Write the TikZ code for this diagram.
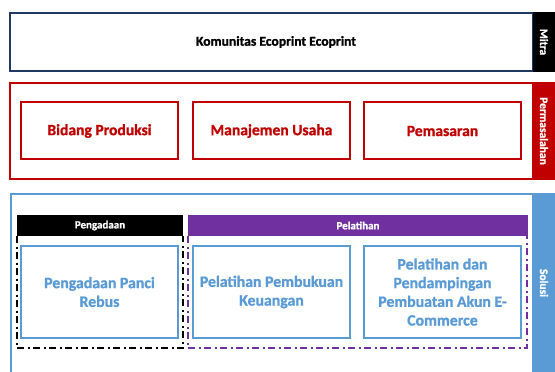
\documentclass[tikz,border=0pt]{standalone}
\usepackage{fontspec}
\setmainfont{Carlito}[BoldFont={Carlito Bold},BoldFeatures={FakeBold=1.2}]
\definecolor{navy}{HTML}{1F3864}
\definecolor{redc}{HTML}{C00000}
\definecolor{bluec}{HTML}{5B9BD5}
\definecolor{purp}{HTML}{7030A0}
\begin{document}
\begin{tikzpicture}[x=1pt,y=-1pt,
  sidelabel/.style={text=white,font=\bfseries\fontsize{11.5}{13}\selectfont,rotate=-90},
  probbox/.style={draw=redc,line width=1.6pt},
  probtext/.style={text=redc,font=\bfseries\fontsize{15.6}{18}\selectfont},
  solbox/.style={draw=bluec,line width=1.6pt},
  soltext/.style={text=bluec,font=\bfseries\fontsize{15.8}{18.7}\selectfont,align=center},
  header/.style={text=white,font=\bfseries\fontsize{11}{12}\selectfont},
  dashdotframe/.style={line width=1.8pt,dash pattern=on 7pt off 3.5pt on 2pt off 3.5pt}
]
\useasboundingbox (0,0) rectangle (555,372);
% Mitra
\draw[navy,line width=1.3pt] (10,13) rectangle (533,71);
\fill[black] (533,12) rectangle (555,72);
\node[sidelabel] (mitra) at (544,42) {Mitra};
\node[font=\bfseries\fontsize{13.6}{15}\selectfont] (kom) at (276,42) {Komunitas Ecoprint Ecoprint};
% Permasalahan
\draw[redc,line width=1.6pt] (10,83) rectangle (533,179);
\fill[redc] (532,82) rectangle (555,180);
\node[sidelabel] (perm) at (544,131) {Permasalahan};
\draw[probbox] (21,102) rectangle (178,159);
\node[probtext] (bp) at (99.5,131) {Bidang Produksi};
\draw[probbox] (193,102) rectangle (350,159);
\node[probtext] (mu) at (271.5,131) {Manajemen Usaha};
\draw[probbox] (364,102) rectangle (521,159);
\node[probtext] (pm) at (442.5,131) {Pemasaran};
% Solusi
\draw[bluec,line width=1.6pt] (11,194) rectangle (533,380);
\fill[bluec] (532,193) rectangle (555,372);
\node[sidelabel] (sol) at (544,283) {Solusi};
% headers
\fill[black] (17,215) rectangle (183,236);
\node[header] (hpeng) at (100,225.5) {Pengadaan};
\fill[purp] (188,215) rectangle (528,236);
\node[header] (hpel) at (358,225.5) {Pelatihan};
% dash-dot frames
\draw[dashdotframe,black] (17,236) -- (17,348) -- (183,348) -- (183,236);
\draw[dashdotframe,purp] (188,236) -- (188,348) -- (527,348) -- (527,236);
% solution boxes
\draw[solbox] (21,246) rectangle (178,338);
\node[soltext] (s1) at (99.5,292) {Pengadaan Panci\\Rebus};
\draw[solbox] (193,246) rectangle (350,338);
\node[soltext] (s2) at (271.5,292) {Pelatihan Pembukuan\\Keuangan};
\draw[solbox] (364,246) rectangle (521,338);
\node[soltext] (s3) at (442.5,292) {Pelatihan dan\\Pendampingan\\Pembuatan Akun E-\\Commerce};
\end{tikzpicture}
\end{document}
